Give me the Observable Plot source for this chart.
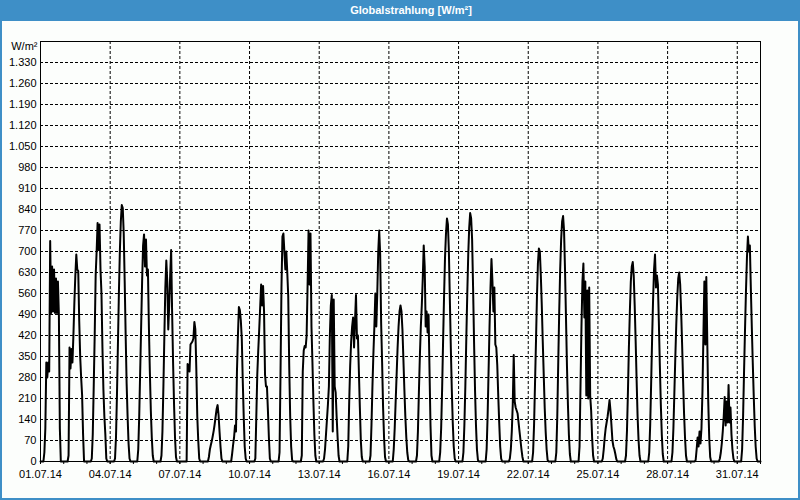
<!DOCTYPE html>
<html>
<head>
<meta charset="utf-8">
<script src="https://cdn.jsdelivr.net/npm/d3@7"></script>
<script src="https://cdn.jsdelivr.net/npm/@observablehq/plot@0.6"></script>
<style>
  html, body { margin: 0; padding: 0; }
  #win { position: relative; width: 800px; height: 500px; background: #fcfefc; overflow: hidden; }
  #title { position: absolute; left: 0; top: 0; width: 800px; height: 21px; box-sizing: border-box; padding-left: 22px;
           background: #3e8fc7; color: #fff; font: bold 11px "Liberation Sans", Arial, sans-serif; text-align: center; line-height: 21px; }
  #chart { position: absolute; left: 0; top: 21px; }
  #border { position: absolute; left: 0; top: 0; width: 800px; height: 500px; box-sizing: border-box;
            border: 2px solid #3e8fc7; border-top: 0; pointer-events: none; }
</style>
</head>
<body>
<div id="win">
  <div id="title">Globalstrahlung [W/m²]</div>
  <div id="chart"></div>
  <div id="border"></div>
</div>
<script>
// Tick labels
const xTickLabels = ["01.07.14","04.07.14","07.07.14","10.07.14","13.07.14","16.07.14","19.07.14","22.07.14","25.07.14","28.07.14","31.07.14"];
const yTicks = [0,70,140,210,280,350,420,490,560,630,700,770,840,910,980,1050,1120,1190,1260,1330];
const unitLabel = "W/m²";

// Hourly global radiation (W/m²) for July 2014, hours 4..21 of each day (other hours are night: 0)
const hourStart = 4;
const radiation = [
  [30,110,330,280,330,300,735,495,650,500,640,495,610,495,600,490,110,0],   // 01.07
  [0,20,380,310,375,330,420,530,620,690,640,635,470,350,280,220,90,0],      // 02.07
  [0,10,90,250,420,620,700,795,705,790,640,560,380,240,150,90,10,0],        // 03.07
  [0,10,80,220,390,560,700,800,855,845,760,600,420,260,150,60,10,0],        // 04.07
  [0,40,150,300,450,600,720,757,650,740,620,640,450,300,170,80,20,0],       // 05.07
  [0,20,100,250,420,580,670,600,440,520,620,705,500,330,190,80,15,0],       // 06.07
  [0,0,0,0,325,320,300,390,395,400,410,465,440,310,150,70,10,0],            // 07.07
  [0,0,15,40,55,68,85,103,125,150,175,188,155,100,50,10,0,0],               // 08.07
  [0,0,25,55,80,120,100,300,420,515,505,470,410,270,150,50,10,0],           // 09.07
  [0,0,10,150,290,370,440,515,590,520,585,500,290,250,250,170,80,10],       // 10.07
  [0,0,0,30,290,580,750,760,700,640,700,630,550,320,150,50,5,0],            // 11.07
  [0,0,20,300,370,385,380,420,590,770,590,760,450,330,200,90,20,0],         // 12.07
  [0,10,40,90,140,190,250,420,520,555,100,540,250,230,150,80,20,0],         // 13.07
  [0,0,50,200,320,400,450,480,380,470,555,410,420,300,180,70,15,0],         // 14.07
  [0,20,120,250,360,450,560,450,560,700,770,690,460,330,180,80,15,0],       // 15.07
  [0,40,110,200,290,380,450,500,520,500,440,340,240,150,80,30,5,0],         // 16.07
  [0,20,100,230,350,450,520,610,720,650,450,500,430,490,300,120,20,0],      // 17.07
  [0,30,110,240,400,550,680,760,810,790,700,540,380,240,130,50,10,0],       // 18.07
  [0,30,120,250,410,560,690,780,828,810,740,580,400,240,120,40,5,0],        // 19.07
  [0,40,150,300,450,580,675,600,500,580,390,380,320,220,130,50,10,0],       // 20.07
  [0,10,40,100,190,355,200,180,170,160,130,100,70,40,15,0,0,0],             // 21.07
  [0,30,120,260,400,550,660,710,700,620,520,400,290,180,100,40,5,0],        // 22.07
  [0,30,150,330,500,640,740,800,818,770,640,480,320,190,90,25,0,0],         // 23.07
  [0,50,250,450,600,660,480,600,220,570,210,580,220,170,80,20,0,0],         // 24.07
  [0,10,40,80,110,130,150,175,205,170,120,70,50,40,25,8,0,0],               // 25.07
  [0,20,100,230,380,500,600,650,665,620,520,400,270,150,70,20,0,0],         // 26.07
  [0,30,120,260,410,540,640,690,580,620,590,460,320,190,90,25,0,0],         // 27.07
  [0,30,110,230,350,460,550,610,630,590,500,390,270,160,80,20,0,0],         // 28.07
  [0,5,40,80,50,100,60,110,230,420,600,390,615,400,200,80,15,0],            // 29.07
  [0,0,10,30,60,100,150,215,120,200,130,255,130,180,90,40,10,0],            // 30.07
  [0,40,150,300,440,570,680,750,700,720,580,450,330,220,120,50,10,0]        // 31.07
];

const parseDay = d3.utcParse("%d.%m.%y");
const xTicks = xTickLabels.map(parseDay);
const start = new Date(Date.UTC(2014, 6, 1));
const end = new Date(Date.UTC(2014, 7, 1));
const dailyTicks = d3.utcDay.range(start, d3.utcDay.offset(end, 1));

const series = [];
radiation.forEach((row, i) => {
  for (let h = 0; h < 24; h++) {
    const j = h - hourStart;
    series.push({ t: new Date(Date.UTC(2014, 6, i + 1, h)), v: (j >= 0 && j < row.length) ? row[j] : 0 });
  }
});
series.push({ t: end, v: 0 });

const de = d3.formatLocale({ decimal: ",", thousands: ".", grouping: [3], currency: ["", " €"] });
const fmtY = de.format(",d");
const fmtX = d3.utcFormat("%d.%m.%y");

const chart = Plot.plot({
  width: 800,
  height: 476,
  marginTop: 20,
  marginBottom: 36,
  marginLeft: 40,
  marginRight: 40,
  style: { fontFamily: "'Liberation Sans', Arial, sans-serif", fontSize: "11px", color: "#000", background: "transparent", overflow: "visible" },
  x: { type: "utc", domain: [start, end] },
  y: { domain: [0, 1400] },
  marks: [
    Plot.gridX(xTicks, { stroke: "#000", strokeOpacity: 1, strokeDasharray: "3,2" }),
    Plot.gridY(yTicks.filter(d => d > 0), { stroke: "#000", strokeOpacity: 1, strokeDasharray: "3,2" }),
    Plot.line(series, { x: "t", y: "v", stroke: "#000", strokeWidth: 2 }),
    Plot.frame({ stroke: "#000" }),
    Plot.axisX(dailyTicks, { tickSize: 3, tickFormat: () => "", label: null }),
    Plot.axisX(xTicks, { tickSize: 3, tickPadding: 6, tickFormat: fmtX, label: null }),
    Plot.axisY(yTicks, { tickSize: 0, tickPadding: 4, tickFormat: fmtY, label: null }),
    Plot.text([unitLabel], { frameAnchor: "top-left", textAnchor: "end", lineAnchor: "middle", dx: -3, dy: 5 })
  ]
});
document.getElementById("chart").appendChild(chart);
</script>
</body>
</html>
